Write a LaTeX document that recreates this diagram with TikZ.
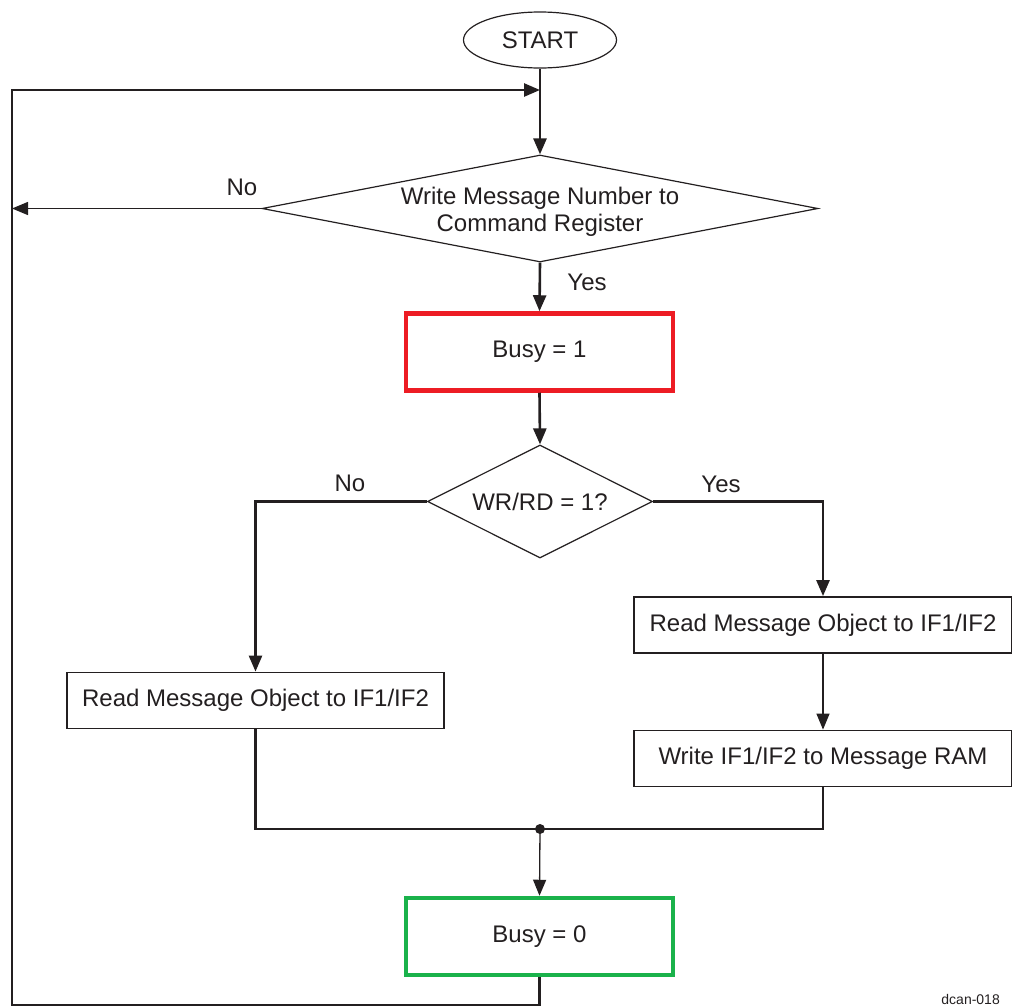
\documentclass[tikz,border=0pt]{standalone}
\usepackage{fontspec}
\setmainfont{Liberation Sans}
\usetikzlibrary{arrows.meta,positioning,shapes.geometric}
\definecolor{ink}{RGB}{35,31,32}
\definecolor{busyred}{RGB}{237,28,36}
\definecolor{busygreen}{RGB}{26,178,75}

\begin{document}
\begin{tikzpicture}[x=1pt,y=-1pt,>={Triangle[length=16pt,width=13pt]},
  every node/.style={text=ink,font=\fontsize{24}{27}\selectfont},
  flow/.style={draw=ink,line width=2.6pt},
  flowthin/.style={draw=ink,line width=1.3pt},
  procbox/.style={draw=ink,line width=1.8pt,minimum width=378pt,minimum height=56pt,inner sep=0pt},
  busybox/.style={line width=4.5pt,minimum width=267pt,minimum height=77pt,inner sep=0pt},
  decision/.style={draw=ink,diamond,line width=1.2pt,inner sep=0pt,align=center}]
\useasboundingbox (0,0) rectangle (1012,1007);

\node[draw=ink,ellipse,line width=1.2pt,minimum width=153pt,minimum height=56pt,inner sep=0pt] (start) at (540,40) {START};
\node[decision,minimum width=556pt,minimum height=107pt,
  label={[align=center,yshift=-3.5pt]center:Write Message Number to\\Command Register}] (cmd) at (540,208.5) {};
\node[busybox,draw=busyred] (busyset) at (539.5,352) {Busy = 1};
\node[decision,minimum width=225pt,minimum height=113pt,aspect=2] (wrrd) at (540,501.5) {WR/RD = 1?};
\node[procbox] (readR) at (823,625) {Read Message Object to IF1/IF2};
\node[procbox] (writeR) at (823,758.5) {Write IF1/IF2 to Message RAM};
\node[procbox,minimum width=377pt] (readL) at (255.5,700.5) {Read Message Object to IF1/IF2};
\node[busybox,draw=busygreen] (busyclr) at (539.5,936.5) {Busy = 0};

\coordinate (entry) at (540,90);
\coordinate (loopBL) at (12,1005);
\coordinate (join) at (540,829);

\draw[flow,->] (start) -- (cmd.north);
\draw[flow,->] (busyclr.south) |- (loopBL) |- (entry);
\draw[flowthin,->] (cmd.west) -- (cmd.west -| loopBL);
\node (cmdno) at (242,187) {No};
\draw[flow,->] (cmd.south) -- (busyset.north);
\node (cmdyes) at (587,282) {Yes};
\draw[flow,->] (busyset.south) -- (wrrd.north);
\draw[flow,->] (wrrd.west) -| (readL.north);
\node (wrrdno) at (350,483) {No};
\draw[flow,->] (wrrd.east) -| (readR.north);
\node (wrrdyes) at (721,484) {Yes};
\draw[flowthin,->] (readR) -- (writeR);
\draw[flow] (readL.south) |- (join);
\draw[flow] (writeR.south) |- (join);
\fill[ink] (join) circle (5pt);
\draw[flowthin,->] (join) -- (busyclr.north);
\node[font=\fontsize{14}{16}\selectfont,anchor=south east,inner sep=0pt] (figid) at (1000,1005) {dcan-018};
\end{tikzpicture}
\end{document}
